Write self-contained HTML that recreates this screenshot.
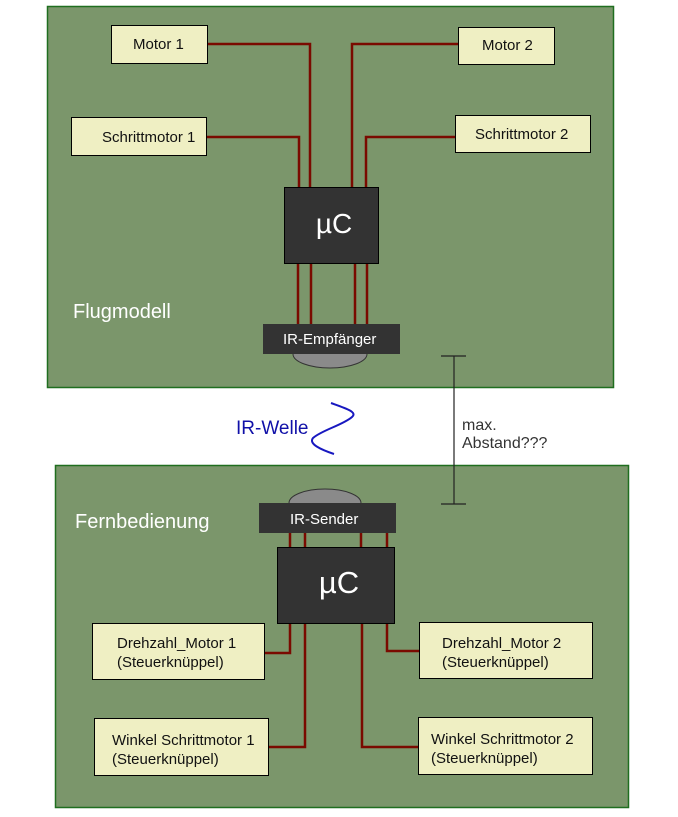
<!DOCTYPE html>
<html><head><meta charset="utf-8"><style>
html,body{margin:0;padding:0;background:#fff;}
svg{display:block;}
text{font-family:"Liberation Sans",Arial,sans-serif;}
</style></head><body>
<svg width="678" height="817" viewBox="0 0 678 817" xmlns="http://www.w3.org/2000/svg">
<rect x="0" y="0" width="678" height="817" fill="#ffffff"/>
<!-- Top panel -->
<rect x="47.5" y="6.5" width="566" height="381" fill="#7b966b" stroke="#1f6e1f" stroke-width="1.5"/>
<!-- Bottom panel -->
<rect x="55.5" y="465.5" width="573" height="342" fill="#7b966b" stroke="#1f6e1f" stroke-width="1.5"/>

<!-- Top wires -->
<g fill="none" stroke="#7a0a00" stroke-width="2.5">
<polyline points="207,44 310,44 310,188"/>
<polyline points="206,137 299,137 299,188"/>
<polyline points="458,44 352,44 352,188"/>
<polyline points="455,137 366,137 366,188"/>
<line x1="298" y1="263" x2="298" y2="325"/>
<line x1="311" y1="263" x2="311" y2="325"/>
<line x1="355" y1="263" x2="355" y2="325"/>
<line x1="367" y1="263" x2="367" y2="325"/>
</g>

<!-- Top boxes -->
<g fill="#efefc3" stroke="#000" stroke-width="1">
<rect x="111.5" y="25.5" width="96" height="38"/>
<rect x="71.5" y="117.5" width="135" height="38"/>
<rect x="458.5" y="27.5" width="96" height="37"/>
<rect x="455.5" y="115.5" width="135" height="37"/>
</g>
<g font-size="15" fill="#111">
<text x="133" y="49">Motor 1</text>
<text x="102" y="142">Schrittmotor 1</text>
<text x="482" y="50">Motor 2</text>
<text x="475" y="139">Schrittmotor 2</text>
</g>

<!-- Top uC -->
<rect x="284.5" y="187.5" width="94" height="76" fill="#333333" stroke="#000" stroke-width="1"/>
<text x="334" y="233" font-size="28" fill="#fff" text-anchor="middle">µC</text>

<!-- IR-Empfänger -->
<ellipse cx="330" cy="354" rx="37" ry="14" fill="#8a8a8a" stroke="#333" stroke-width="1"/>
<rect x="263" y="324" width="137" height="30" fill="#333333"/>
<text x="283" y="344" font-size="15" fill="#fff">IR-Empfänger</text>

<text x="73" y="318" font-size="20" fill="#fff">Flugmodell</text>

<!-- IR-Welle -->
<text x="236" y="434" font-size="19" fill="#1010a8">IR-Welle</text>
<path d="M331,403 C345,408 358,412 352,417 C343,425 322,430 313,438 C308,444 322,450 334,454" fill="none" stroke="#1818c0" stroke-width="2"/>

<!-- Distance -->
<g stroke="#222" stroke-width="1.2">
<line x1="454" y1="356" x2="454" y2="504"/>
<line x1="441" y1="356" x2="466" y2="356"/>
<line x1="441" y1="504" x2="466" y2="504"/>
</g>
<text x="462" y="430" font-size="16" fill="#333">max.</text>
<text x="462" y="448" font-size="16" fill="#333">Abstand???</text>

<!-- Bottom -->
<text x="75" y="528" font-size="20" fill="#fff">Fernbedienung</text>

<ellipse cx="325" cy="503" rx="36" ry="14" fill="#8a8a8a" stroke="#333" stroke-width="1"/>
<rect x="259" y="503" width="137" height="30" fill="#333333"/>
<text x="290" y="524" font-size="15" fill="#fff">IR-Sender</text>

<g fill="none" stroke="#7a0a00" stroke-width="2.5">
<line x1="290" y1="533" x2="290" y2="548"/>
<line x1="305" y1="533" x2="305" y2="548"/>
<line x1="361" y1="533" x2="361" y2="548"/>
<line x1="387" y1="533" x2="387" y2="548"/>
<polyline points="290,623 290,653 264,653"/>
<polyline points="305,623 305,747 268,747"/>
<polyline points="387,623 387,651 419,651"/>
<polyline points="362,623 362,747 418,747"/>
</g>

<rect x="277.5" y="547.5" width="117" height="76" fill="#333333" stroke="#000" stroke-width="1"/>
<text x="339" y="593" font-size="31" fill="#fff" text-anchor="middle">µC</text>

<g fill="#efefc3" stroke="#000" stroke-width="1">
<rect x="92.5" y="623.5" width="172" height="56"/>
<rect x="94.5" y="718.5" width="174" height="57"/>
<rect x="419.5" y="622.5" width="173" height="56"/>
<rect x="418.5" y="717.5" width="174" height="57"/>
</g>
<g font-size="15" fill="#111">
<text x="117" y="648">Drehzahl_Motor 1</text>
<text x="117" y="667">(Steuerknüppel)</text>
<text x="112" y="745">Winkel Schrittmotor 1</text>
<text x="112" y="764">(Steuerknüppel)</text>
<text x="442" y="648">Drehzahl_Motor 2</text>
<text x="442" y="667">(Steuerknüppel)</text>
<text x="431" y="744">Winkel Schrittmotor 2</text>
<text x="431" y="763">(Steuerknüppel)</text>
</g>
</svg>
</body></html>
